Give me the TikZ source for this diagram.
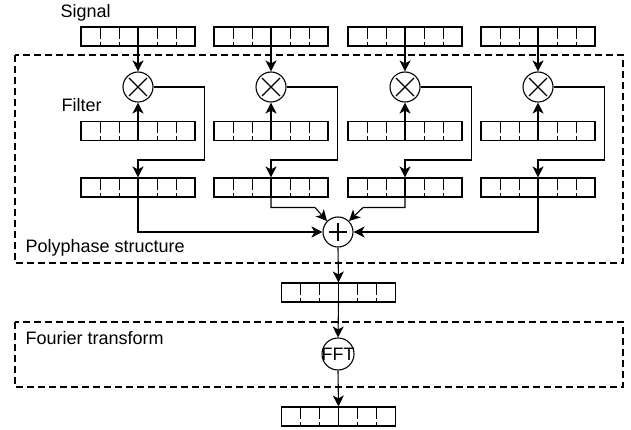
\documentclass[tikz,border=0pt]{standalone}
\usepackage{fontspec}
\setmainfont{Liberation Sans}
\usetikzlibrary{arrows.meta,calc}
\tikzset{
  lbl/.style={font=\fontsize{18}{20}\selectfont, inner sep=0pt, anchor=base west},
  cbox/.style={draw, rectangle, minimum width=114pt, minimum height=19pt, inner sep=0pt,
    path picture={
      \foreach \i in {1,2,4,5}{
        \draw[line width=0.9pt] ([xshift=\i*19pt]path picture bounding box.north west) -- ++(0,-12pt) ++(0,-3pt) -- ++(0,-5pt);
      }
      \draw (path picture bounding box.north) -- (path picture bounding box.south);
    }},
  circ/.style={draw, circle, minimum size=30pt, inner sep=0pt},
  mult/.style={circ, path picture={
      \draw ([shift={(-9pt,-9pt)}]path picture bounding box.center) -- ++(18pt,18pt);
      \draw ([shift={(-9pt,9pt)}]path picture bounding box.center) -- ++(18pt,-18pt);
    }},
  summ/.style={circ, path picture={
      \draw ([xshift=-9pt]path picture bounding box.center) -- ++(18pt,0);
      \draw ([yshift=-9pt]path picture bounding box.center) -- ++(0,18pt);
    }},
  arr/.style={-{Stealth[length=11pt,width=11pt,inset=3pt]}},
  region/.style={draw, dash pattern=on 7pt off 4pt},
}
\begin{document}
\begin{tikzpicture}[x=1pt, y=-1pt, line width=1.1pt]
\useasboundingbox (0,0) rectangle (631,430);
% regions
\draw[region] (15,55) rectangle (623,263);
\draw[region] (15,322) rectangle (623,387);
% labels
\node[lbl] (tsig) at (60,18) {Signal};
\node[lbl] (tfil) at (61,112) {Filter};
\node[lbl] (tpoly) at (25,252) {Polyphase structure};
\node[lbl] (tfour) at (25,344) {Fourier transform};
% columns
\foreach \n/\x in {1/138,2/271,3/405,4/538}{
  \node[cbox] (s\n) at (\x,36.5) {};
  \node[mult] (m\n) at (\x,87) {};
  \node[cbox] (f\n) at (\x,131) {};
  \node[cbox] (r\n) at (\x,187.5) {};
  \draw[arr] (s\n.south) -- (m\n.north);
  \draw[arr] (f\n.south) -- (m\n.south);
  \draw[arr] (m\n.east) -| ($(m\n.east)+(51,73)$) -| (r\n.north);
}
\node[summ] (sum) at (338,232) {};
\node[cbox] (mid) at (338.5,292.5) {};
\node[circ, minimum size=32pt, label={[font=\fontsize{18}{20}\selectfont, inner sep=0pt]center:FFT}] (fft) at (338,354) {};
\node[cbox] (bot) at (338.5,416.5) {};
% to sum
\draw[arr] (r1.south) |- (sum.west);
\draw[arr] (r4.south) |- (sum.east);
\draw[arr] (r2.south) |- ($(r2.south)+(44,10)$) -- (sum.135);
\draw[arr] (r3.south) |- ($(r3.south)+(-42,10)$) -- (sum.45);
% lower chain
\draw[arr] (sum.south) -- (mid.north);
\draw[arr] (mid.south) -- (fft.north);
\draw[arr] (fft.south) -- (bot.north);
\end{tikzpicture}
\end{document}
